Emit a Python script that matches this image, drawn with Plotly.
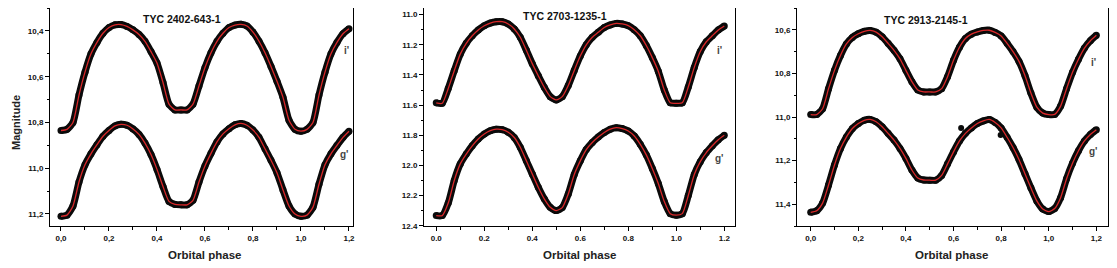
import plotly.graph_objects as go

# ---------------- data ----------------
phase = [round(i * 0.025, 3) for i in range(49)]  # 0.000 ... 1.200

tyc1_i = [10.835, 10.830, 10.800, 10.680, 10.580, 10.500, 10.450, 10.410, 10.385, 10.373,
          10.372, 10.380, 10.395, 10.415, 10.445, 10.490, 10.540, 10.625, 10.720, 10.745,
          10.745, 10.745, 10.720, 10.640, 10.560, 10.495, 10.445, 10.410, 10.385, 10.374,
          10.371, 10.378, 10.405, 10.445, 10.495, 10.555, 10.620, 10.690, 10.790, 10.830,
          10.838, 10.830, 10.800, 10.680, 10.580, 10.500, 10.450, 10.412, 10.390]
tyc1_g = [11.210, 11.205, 11.165, 11.060, 10.985, 10.937, 10.897, 10.860, 10.835, 10.815,
          10.808, 10.812, 10.828, 10.852, 10.890, 10.940, 11.005, 11.080, 11.145, 11.158,
          11.160, 11.160, 11.140, 11.060, 10.990, 10.935, 10.885, 10.850, 10.827, 10.810,
          10.804, 10.812, 10.833, 10.865, 10.915, 10.965, 11.020, 11.095, 11.165, 11.200,
          11.210, 11.205, 11.170, 11.070, 10.985, 10.937, 10.900, 10.865, 10.838]

tyc2_i = [11.585, 11.588, 11.490, 11.372, 11.262, 11.190, 11.140, 11.102, 11.074, 11.056,
          11.047, 11.047, 11.062, 11.095, 11.150, 11.235, 11.325, 11.405, 11.482, 11.544,
          11.566, 11.544, 11.470, 11.370, 11.275, 11.200, 11.150, 11.117, 11.085, 11.068,
          11.058, 11.062, 11.073, 11.100, 11.140, 11.205, 11.285, 11.375, 11.500, 11.585,
          11.588, 11.585, 11.480, 11.350, 11.245, 11.180, 11.140, 11.102, 11.075]
tyc2_g = [12.333, 12.333, 12.250, 12.100, 11.990, 11.925, 11.870, 11.825, 11.792, 11.770,
          11.760, 11.763, 11.780, 11.815, 11.880, 11.968, 12.057, 12.145, 12.222, 12.278,
          12.300, 12.280, 12.190, 12.060, 11.970, 11.895, 11.848, 11.812, 11.782, 11.760,
          11.750, 11.756, 11.772, 11.805, 11.860, 11.930, 12.020, 12.120, 12.240, 12.320,
          12.330, 12.320, 12.200, 12.060, 11.975, 11.915, 11.870, 11.830, 11.800]

tyc3_i = [10.989, 10.989, 10.962, 10.870, 10.786, 10.718, 10.665, 10.635, 10.618, 10.607,
          10.603, 10.611, 10.632, 10.662, 10.694, 10.733, 10.786, 10.838, 10.876, 10.885,
          10.885, 10.885, 10.870, 10.815, 10.740, 10.680, 10.640, 10.620, 10.610, 10.603,
          10.602, 10.612, 10.628, 10.662, 10.700, 10.745, 10.810, 10.890, 10.955, 10.982,
          10.989, 10.988, 10.950, 10.870, 10.795, 10.735, 10.684, 10.650, 10.625]
tyc3_g = [11.437, 11.430, 11.395, 11.312, 11.220, 11.145, 11.092, 11.053, 11.030, 11.015,
          11.011, 11.022, 11.045, 11.075, 11.106, 11.144, 11.190, 11.243, 11.280, 11.289,
          11.290, 11.290, 11.268, 11.215, 11.160, 11.110, 11.075, 11.050, 11.030, 11.018,
          11.011, 11.025, 11.050, 11.093, 11.140, 11.195, 11.260, 11.325, 11.385, 11.422,
          11.434, 11.420, 11.370, 11.283, 11.212, 11.155, 11.110, 11.080, 11.058]
tyc3_outlier_phase = [0.798, 0.632]
tyc3_outlier_mag = [11.083, 11.05]

stars = ["TYC 2402-643-1", "TYC 2703-1235-1", "TYC 2913-2145-1"]
band_labels = ["i'", "g'"]
x_title = "Orbital phase"
y_title = "Magnitude"

x_tickvals = [0.0, 0.2, 0.4, 0.6, 0.8, 1.0, 1.2]
x_ticktext_comma = ["0,0", "0,2", "0,4", "0,6", "0,8", "1,0", "1,2"]
x_ticktext_dot = ["0.0", "0.2", "0.4", "0.6", "0.8", "1.0", "1.2"]
y1_tickvals = [10.4, 10.6, 10.8, 11.0, 11.2]
y1_ticktext = ["10,4", "10,6", "10,8", "11,0", "11,2"]
y2_tickvals = [11.0, 11.2, 11.4, 11.6, 11.8, 12.0, 12.2, 12.4]
y2_ticktext = ["11.0", "11.2", "11.4", "11.6", "11.8", "12.0", "12.2", "12.4"]
y3_tickvals = [10.6, 10.8, 11.0, 11.2, 11.4]
y3_ticktext = ["10,6", "10,8", "11,0", "11,2", "11,4"]

# ---------------- figure ----------------
# the page body has an 8px default margin: the figure is drawn 8px in from the corner
OFF = 8
W, H = 1117 - OFF, 268 - OFF
fig = go.Figure()

FONT = "Liberation Sans"
OBS = "#0a0a0a"
FIT = "#d8282a"

panels = [
    dict(ax="", i=tyc1_i, g=tyc1_g),
    dict(ax="2", i=tyc2_i, g=tyc2_g),
    dict(ax="3", i=tyc3_i, g=tyc3_g),
]

for p in panels:
    xa, ya = "x" + p["ax"], "y" + p["ax"]
    for curve in (p["i"], p["g"]):
        fig.add_trace(go.Scatter(
            x=phase, y=curve, xaxis=xa, yaxis=ya, mode="lines+markers",
            line=dict(color=OBS, width=7, shape="spline", smoothing=0.6),
            marker=dict(color=OBS, size=7), showlegend=False, hoverinfo="skip"))
    for curve in (p["i"], p["g"]):
        fig.add_trace(go.Scatter(
            x=phase, y=curve, xaxis=xa, yaxis=ya, mode="lines",
            line=dict(color=FIT, width=1.3, shape="spline", smoothing=0.6),
            showlegend=False, hoverinfo="skip"))

fig.add_trace(go.Scatter(x=tyc3_outlier_phase, y=tyc3_outlier_mag, xaxis="x3", yaxis="y3",
                         mode="markers", marker=dict(color=OBS, size=6), showlegend=False,
                         hoverinfo="skip"))


def px_domain_x(a, b):
    return [(a - OFF) / W, (b - OFF) / W]


def px_domain_y(top, bottom):
    return [(H - (bottom - OFF)) / H, (H - (top - OFF)) / H]


def paper_x(px):
    return (px - OFF) / W


def paper_y(py):
    return (H - (py - OFF)) / H


ydom = px_domain_y(8, 226)
tickfont = dict(family=FONT, size=8, color="#111", weight="bold")

common_x = dict(showline=True, linecolor="black", linewidth=1, mirror=True,
                ticks="outside", ticklen=4, tickwidth=1, tickcolor="black",
                showgrid=False, zeroline=False, tickfont=tickfont, tickvals=x_tickvals,
                automargin=False,
                minor=dict(ticks="outside", ticklen=2.5, tickcolor="black", dtick=0.1,
                           tick0=0, showgrid=False))
common_y = dict(showline=True, linecolor="black", linewidth=1, mirror=True,
                ticks="outside", ticklen=4, tickwidth=1, tickcolor="black",
                showgrid=False, zeroline=False, tickfont=tickfont, automargin=False,
                minor=dict(ticks="outside", ticklen=2.5, tickcolor="black", dtick=0.1,
                           tick0=0, showgrid=False))

fig.update_layout(
    width=W, height=H, margin=dict(l=0, r=0, t=0, b=0, autoexpand=False),
    paper_bgcolor="white", plot_bgcolor="white",
    xaxis=dict(common_x, domain=px_domain_x(50, 353), range=[-0.0458, 1.2167],
               ticktext=x_ticktext_comma, anchor="y"),
    yaxis=dict(common_y, domain=ydom, range=[11.2525, 10.2995], tickvals=y1_tickvals,
               ticktext=y1_ticktext, anchor="x"),
    xaxis2=dict(common_x, domain=px_domain_x(424, 735), range=[-0.051, 1.2446],
                ticktext=x_ticktext_dot, anchor="y2"),
    yaxis2=dict(common_y, domain=ydom, range=[12.402, 10.956], tickvals=y2_tickvals,
                ticktext=y2_ticktext, anchor="x2"),
    xaxis3=dict(common_x, domain=px_domain_x(797, 1108), range=[-0.0576, 1.249],
                ticktext=x_ticktext_comma, anchor="y3"),
    yaxis3=dict(common_y, domain=ydom, range=[11.5, 10.5], tickvals=y3_tickvals,
                ticktext=y3_ticktext, anchor="x3"),
)

title_pos = [(0.504, 10.348), (0.536, 11.009), (0.484, 10.553)]
label_pos = [((1.19, 10.487), (1.183, 10.938)),
             ((1.178, 11.241), (1.182, 11.951)),
             ((1.19, 10.749), (1.186, 11.156))]
xtitle_px = [205, 580, 952]
axes = ["", "2", "3"]
for k in range(3):
    xr, yr = "x" + axes[k], "y" + axes[k]
    fig.add_annotation(x=title_pos[k][0], y=title_pos[k][1], xref=xr, yref=yr,
                       text=stars[k], showarrow=False,
                       font=dict(family=FONT, size=10.5, color="#111", weight="bold"))
    for j in range(2):
        fig.add_annotation(x=label_pos[k][j][0], y=label_pos[k][j][1], xref=xr, yref=yr,
                           text=band_labels[j], showarrow=False,
                           font=dict(family=FONT, size=10, color="#444", weight="bold"))
    fig.add_annotation(x=paper_x(xtitle_px[k]), y=paper_y(255), xref="paper", yref="paper",
                       text=x_title, showarrow=False, xanchor="center", yanchor="middle",
                       font=dict(family=FONT, size=11.5, color="#222", weight="bold"))

fig.add_annotation(x=paper_x(16), y=paper_y(123), xref="paper", yref="paper", text=y_title,
                   textangle=-90, showarrow=False, xanchor="center", yanchor="middle",
                   font=dict(family=FONT, size=11, color="#222", weight="bold"))

fig.write_html("out.html")
